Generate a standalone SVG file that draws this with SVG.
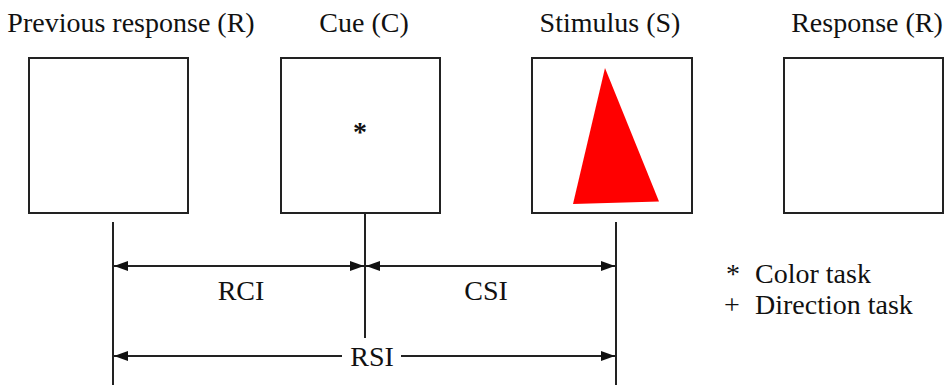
<svg xmlns="http://www.w3.org/2000/svg" width="944" height="387" viewBox="0 0 944 387">
<style>
.t{font-size:28px;fill:#111}
.box{fill:#fff;stroke:#222;stroke-width:2}
.ln{stroke:#222;stroke-width:2;fill:none}
</style>
<defs>
<marker id="ah" viewBox="0 0 14 10" refX="14" refY="5" markerWidth="14" markerHeight="10" markerUnits="userSpaceOnUse" orient="auto-start-reverse">
<path d="M0,0 L14,5 L0,10 Z" fill="#111"/>
</marker>
</defs>
<rect width="944" height="387" fill="#fff"/>
<g font-family="Liberation Serif, DejaVu Serif, serif">
<g id="prev">
<text class="t" x="131" y="32" text-anchor="middle">Previous response (R)</text>
<rect class="box" x="29" y="58" width="159" height="155"/>
</g>
<g id="cue">
<text class="t" x="364" y="32" text-anchor="middle">Cue (C)</text>
<rect class="box" x="281" y="58" width="159" height="155"/>
<text class="t" x="360" y="141" text-anchor="middle" font-weight="bold">*</text>
</g>
<g id="stimulus">
<text class="t" x="610" y="32" text-anchor="middle">Stimulus (S)</text>
<rect class="box" x="532" y="58" width="160" height="155"/>
<polygon points="605,68 573,204 659,201.5" fill="#ff0000"/>
</g>
<g id="response">
<text class="t" x="867" y="32" text-anchor="middle">Response (R)</text>
<rect class="box" x="784" y="58" width="159" height="155"/>
</g>
<g id="connectors">
<line class="ln" x1="113" y1="222" x2="113" y2="385"/>
<line class="ln" x1="365" y1="213" x2="365" y2="338"/>
<line class="ln" x1="616" y1="222" x2="616" y2="385"/>
<line class="ln" x1="114" y1="266" x2="364" y2="266" marker-start="url(#ah)" marker-end="url(#ah)"/>
<line class="ln" x1="366" y1="266" x2="615" y2="266" marker-start="url(#ah)" marker-end="url(#ah)"/>
<line class="ln" x1="114" y1="356" x2="342" y2="356" marker-start="url(#ah)"/>
<line class="ln" x1="401" y1="356" x2="615" y2="356" marker-end="url(#ah)"/>
</g>
<g id="labels">
<text class="t" x="241" y="300" text-anchor="middle">RCI</text>
<text class="t" x="486" y="300" text-anchor="middle">CSI</text>
<text class="t" x="372" y="366" text-anchor="middle">RSI</text>
</g>
<g id="legend">
<text class="t" x="726" y="283">*</text>
<text class="t" x="755" y="283">Color task</text>
<text class="t" x="724" y="314">+</text>
<text class="t" x="755" y="314">Direction task</text>
</g>
</g>
</svg>
